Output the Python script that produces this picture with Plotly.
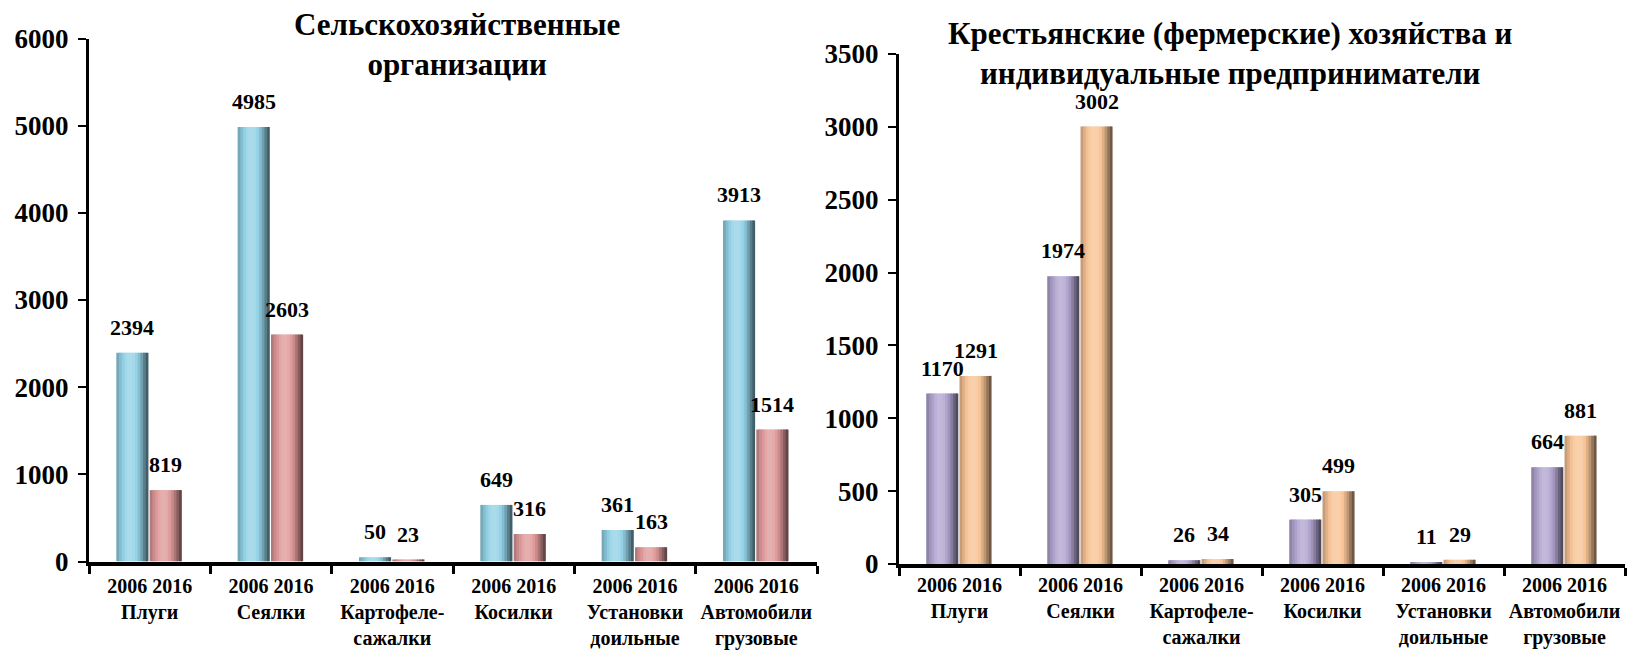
import plotly.graph_objects as go

# ---------------- data ----------------
categories = ["Плуги", "Сеялки", "Картофеле-<br>сажалки", "Косилки",
              "Установки<br>доильные", "Автомобили<br>грузовые"]
years = ["2006", "2016"]
org_2006 = [2394, 4985, 50, 649, 361, 3913]
org_2016 = [819, 2603, 23, 316, 163, 1514]
farm_2006 = [1170, 1974, 26, 305, 11, 664]
farm_2016 = [1291, 3002, 34, 499, 29, 881]
title_org = "Сельскохозяйственные<br>организации"
title_farm = "Крестьянские (фермерские) хозяйства и<br>индивидуальные предприниматели"

# ---------------- style ----------------
FONT = "Liberation Serif"
W = 1630
H = 651
BAR_W = 0.265
OFFS = [-0.275, 0.0]
N_STRIPS = 12
PROFILE = [0.80, 0.90, 0.98, 1.04, 1.07, 1.07, 1.05, 1.0, 0.9, 0.76, 0.6, 0.45]

col_org = ["#93d2e6", "#df9a9a"]
col_farm = ["#b2a5d0", "#f8c496"]

labels = [" ".join(years) + "<br>" + c for c in categories]


def shade(hexcol, f):
    r, g, b = int(hexcol[1:3], 16), int(hexcol[3:5], 16), int(hexcol[5:7], 16)
    out = []
    for c in (r, g, b):
        if f <= 1:
            v = c * f
        else:
            v = c + (255 - c) * (f - 1) * 3
        out.append(max(0, min(255, int(round(v)))))
    return "rgb(%d,%d,%d)" % tuple(out)


fig = go.Figure()


def add_series(values, color, off, xa, ya):
    sw = BAR_W / N_STRIPS
    for k in range(N_STRIPS):
        wk = sw * 1.6 if k < N_STRIPS - 1 else sw
        fig.add_trace(go.Bar(
            x=labels, y=values, width=[wk] * len(values),
            offset=[off + k * sw] * len(values),
            marker=dict(color=shade(color, PROFILE[k]), line=dict(width=0)),
            xaxis=xa, yaxis=ya, showlegend=False, hoverinfo="skip"))
    for i, v in enumerate(values):
        fig.add_annotation(
            x=i + off + BAR_W / 2, y=v, xref=xa, yref=ya,
            text="<b>%d</b>" % v, showarrow=False, yanchor="bottom", yshift=11,
            font=dict(family=FONT, size=22, color="black"))


add_series(org_2006, col_org[0], OFFS[0], "x", "y")
add_series(org_2016, col_org[1], OFFS[1], "x", "y")
add_series(farm_2006, col_farm[0], OFFS[0], "x2", "y2")
add_series(farm_2016, col_farm[1], OFFS[1], "x2", "y2")

xcommon = dict(type="category", showline=True, linewidth=4, linecolor="black",
               ticks="outside", tickson="boundaries", ticklen=8, tickwidth=3,
               tickcolor="black", showgrid=False, zeroline=False,
               tickangle=0, automargin=False,
               tickfont=dict(family=FONT, size=20, color="black", weight="bold"),
               categoryorder="array", categoryarray=labels)
ycommon = dict(showline=True, linewidth=3, linecolor="black", ticks="outside",
               ticklen=8, tickwidth=2, tickcolor="black", showgrid=False,
               zeroline=False, automargin=False, ticklabelstandoff=4,
               tickfont=dict(family=FONT, size=27, color="black", weight="bold"))

fig.update_layout(
    width=W, height=H, barmode="overlay",
    margin=dict(l=0, r=0, t=0, b=0),
    paper_bgcolor="white", plot_bgcolor="white",
    xaxis=dict(domain=[89 / W, 817 / W], anchor="y", ticklabelstandoff=3,
               **xcommon),
    yaxis=dict(domain=[1 - 561.5 / H, 1 - 38.5 / H], range=[0, 6000],
               dtick=1000, anchor="x", **ycommon),
    xaxis2=dict(domain=[899 / W, 1625 / W], anchor="y2", ticklabelstandoff=0,
                **xcommon),
    yaxis2=dict(domain=[1 - 564 / H, 1 - 54 / H], range=[0, 3500],
                dtick=500, anchor="x2", **ycommon),
)

fig.add_annotation(x=457 / W, y=1 - 44 / H, xref="paper", yref="paper",
                   text="<b>" + title_org + "</b>", showarrow=False,
                   yanchor="middle", xanchor="center",
                   font=dict(family=FONT, size=31, color="black"))
fig.add_annotation(x=1230 / W, y=1 - 53.5 / H, xref="paper", yref="paper",
                   text="<b>" + title_farm + "</b>", showarrow=False,
                   yanchor="middle", xanchor="center",
                   font=dict(family=FONT, size=31, color="black"))

fig.write_html("out.html",
               config={"displayModeBar": False},
               post_script="document.body.style.margin='0';"
                           "document.body.style.overflow='hidden';")
